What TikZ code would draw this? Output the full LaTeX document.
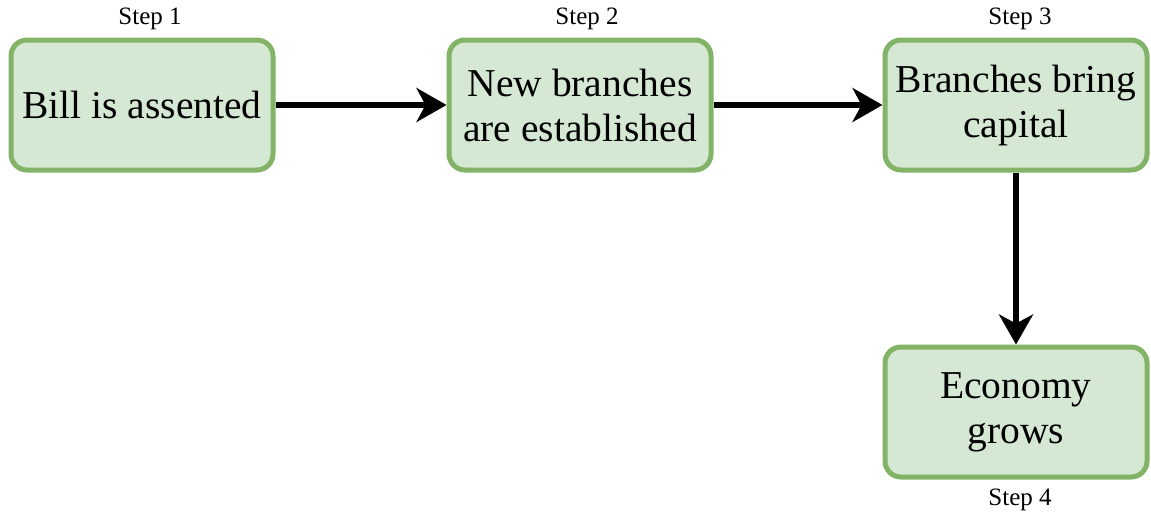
\documentclass[tikz,border=0pt]{standalone}
\usepackage{fontspec}
\setmainfont{Liberation Serif}
\usetikzlibrary{arrows.meta}
\definecolor{boxfill}{HTML}{D5E8D4}
\definecolor{boxline}{HTML}{82B366}
\begin{document}
\begin{tikzpicture}[x=1pt,y=-1pt,
  stepbox/.style={draw=boxline, fill=boxfill, line width=5pt, rounded corners=16pt,
    minimum width=262pt, minimum height=130pt, align=center,
    font=\fontsize{39.5}{45}\selectfont, inner sep=0pt},
  steplabel/.style={font=\fontsize{25}{28}\selectfont, inner sep=0pt},
  flow/.style={line width=5.5pt, -{Stealth[length=30pt,width=34pt,inset=9pt]}}]
\useasboundingbox (0,0) rectangle (1151,517);
\node[stepbox] (b1) at (142,105) {Bill is assented};
\node[stepbox] (b2) at (580,105) {New branches\\are established};
\node[stepbox] (b3) at (1016,105) {Branches bring\\capital};
\node[stepbox] (b4) at (1016,412) {Economy\\grows};
\node[steplabel] (l1) at (150,19) {Step 1};
\node[steplabel] (l2) at (587,19) {Step 2};
\node[steplabel] (l3) at (1020,19) {Step 3};
\node[steplabel] (l4) at (1020,500) {Step 4};
\draw[flow] (b1) -- (b2);
\draw[flow] (b2) -- (b3);
\draw[flow] (b3) -- (b4);
\end{tikzpicture}
\end{document}
